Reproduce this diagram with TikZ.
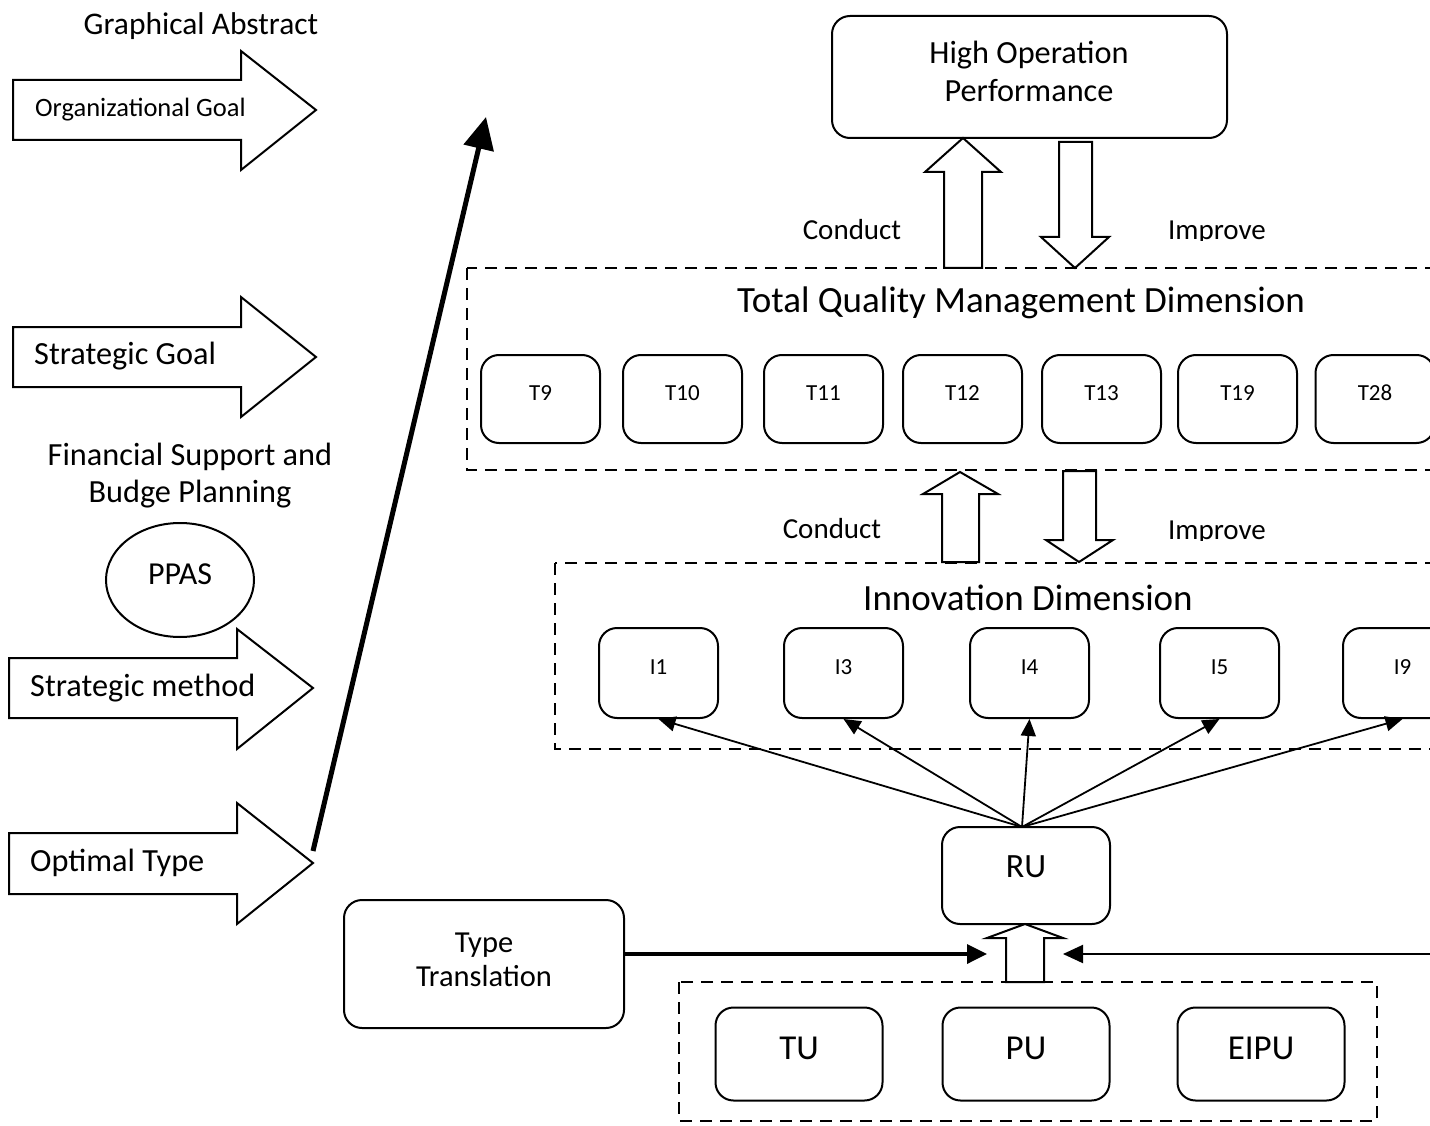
\documentclass[tikz,border=0pt]{standalone}
\usepackage{fontspec}
\setmainfont{Carlito}
\usetikzlibrary{arrows.meta,shapes.geometric}
\newcommand\fsz[2]{\fontsize{#1}{#2}\selectfont}
\begin{document}
\begin{tikzpicture}[x=1pt,y=-1pt,
  rbox/.style={draw, rounded corners=18pt, line width=2pt, inner sep=0pt},
  tbox/.style={rbox, minimum width=119, minimum height=88},
  ibox/.style={rbox, minimum width=119, minimum height=90},
  ubox/.style={rbox, minimum width=167, minimum height=93},
  dbox/.style={draw, dash pattern=on 12pt off 8pt, line width=2.6pt},
  blk/.style={draw, line width=2pt, fill=white, line join=miter},
  txt/.style={inner sep=0pt, align=center},
  small/.style={txt, font=\fsz{23}{27}},
  mid/.style={txt, font=\fsz{32.3}{37}},
  big/.style={txt, font=\fsz{37}{44}},
  fan/.style={line width=1.8pt, -{Triangle[length=17pt,width=15pt]}},
]
\clip (0,0) rectangle (1430,1126);

% ---------- left column ----------
\node[mid, font=\fsz{31.5}{37}] (title) at (201,26) {Graphical Abstract};

\draw[blk] (13,80) -- (241,80) -- (241,51) -- (316,110) -- (241,170) -- (241,140) -- (13,140) -- cycle;
\node[txt, font=\fsz{26.5}{30}, anchor=west] (orggoal) at (35,110) {Organizational Goal};

\draw[blk] (13,327) -- (241,327) -- (241,297) -- (316,357) -- (241,417) -- (241,387) -- (13,387) -- cycle;
\node[mid, anchor=west] (stratgoal) at (34,356) {Strategic Goal};

\node[txt, font=\fsz{32.3}{37}] (fin) at (190,476) {Financial Support and\\Budge Planning};
\node[draw, ellipse, line width=2pt, minimum width=148, minimum height=114, inner sep=0pt, font=\fsz{32}{37}] (ppas) at (180,580) {PPAS\rule[-12pt]{0pt}{12pt}};

\draw[blk] (9,658) -- (237,658) -- (237,629) -- (313,688) -- (237,749) -- (237,718) -- (9,718) -- cycle;
\node[mid, anchor=west] (stratmeth) at (30,688) {Strategic method};

\draw[blk] (9,833) -- (237,833) -- (237,803) -- (313,863) -- (237,924) -- (237,894) -- (9,894) -- cycle;
\node[mid, anchor=west] (optimal) at (30,863) {Optimal Type};

\coordinate (opttip) at (313,851);
\coordinate (goaltip) at (486,117);
\draw[line width=5pt, -{Triangle[length=32pt,width=30pt]}] (opttip) -- (goaltip);

% ---------- top ----------
\node[rbox, minimum width=395, minimum height=122] (hop) at (1029.5,77) {};
\node[txt, font=\fsz{32.3}{38}] (hoptxt) at (1029,71) {High Operation\\Performance};

% TQM dimension frame
\draw[dbox] (467,268) rectangle (1460,470);
\node[big] (tqm) at (1021,303) {Total Quality Management Dimension};

\draw[blk] (944,268) -- (944,172) -- (925,172) -- (963,138) -- (1001,172) -- (982,172) -- (982,268) -- cycle;
\draw[blk] (1059,142) -- (1092,142) -- (1092,237) -- (1109,237) -- (1075,268) -- (1041,237) -- (1059,237) -- cycle;
\node[txt, font=\fsz{29}{34}] (conduct1) at (852,230) {Conduct};
\begin{scope}
  \clip (1150,200) rectangle (1290,241);
  \node[txt, font=\fsz{29}{34}, anchor=base] (improve1) at (1217,240) {Improve};
\end{scope}

\foreach \n/\x in {T9/540.5,T10/682.5,T11/823.5,T12/962.5,T13/1101.5,T19/1237.5,T28/1375} {
  \node[tbox] (\n) at (\x,399) {};
  \node[small] (\n txt) at (\x,393) {\n};
}

% ---------- innovation ----------
\draw[blk] (942,562) -- (942,494) -- (923,494) -- (960,472) -- (998,494) -- (979,494) -- (979,562) -- cycle;
\draw[blk] (1063,471) -- (1096,471) -- (1096,540) -- (1113,540) -- (1079,562) -- (1046,540) -- (1063,540) -- cycle;
\node[txt, font=\fsz{29}{34}] (conduct2) at (832,529) {Conduct};
\begin{scope}
  \clip (1150,500) rectangle (1290,540);
  \node[txt, font=\fsz{29}{34}, anchor=base] (improve2) at (1217,539) {Improve};
\end{scope}

\draw[dbox] (555,563) rectangle (1460,749);
\node[big] (inno) at (1028,598) {Innovation Dimension};

\foreach \n/\x in {I1/658.5,I3/843.5,I4/1029.5,I5/1219.5,I9/1402.5} {
  \node[ibox] (\n) at (\x,673) {};
  \node[small] (\n txt) at (\x,667) {\n};
}

% ---------- RU ----------
\node[rbox, minimum width=168, minimum height=97] (ru) at (1026,875.5) {};
\node[txt, font=\fsz{34}{40}] (rutxt) at (1026,867) {RU};

\coordinate (ruo) at (1022,827);
\foreach \n in {I1,I3,I4,I5,I9} {
  \draw[fan] (ruo) -- (\n.south);
}

% ---------- bottom ----------
\draw[dbox] (679,982) rectangle (1377,1121);
\foreach \n/\x in {TU/799,PU/1026,EIPU/1261} {
  \node[ubox] (\n) at (\x,1054) {};
  \node[txt, font=\fsz{35}{40}] (\n txt) at (\x,1048) {\n};
}
\draw[blk] (1006,982) -- (1006,938) -- (987,938) -- (1025,924) -- (1063,938) -- (1044,938) -- (1044,982) -- cycle;

\node[rbox, minimum width=280, minimum height=128] (tt) at (484,964) {};
\node[txt, font=\fsz{30.5}{34}] (tttxt) at (484,960) {Type\\Translation};

\coordinate (ttout) at (624,954);
\coordinate (ruinL) at (987,954);
\coordinate (ruinR) at (1063,954);
\coordinate (farR) at (1440,954);
\draw[line width=3.5pt, -{Triangle[length=20pt,width=19pt]}] (ttout) -- (ruinL);
\draw[line width=2pt, -{Triangle[length=20pt,width=18pt]}] (farR) -- (ruinR);
\end{tikzpicture}
\end{document}
